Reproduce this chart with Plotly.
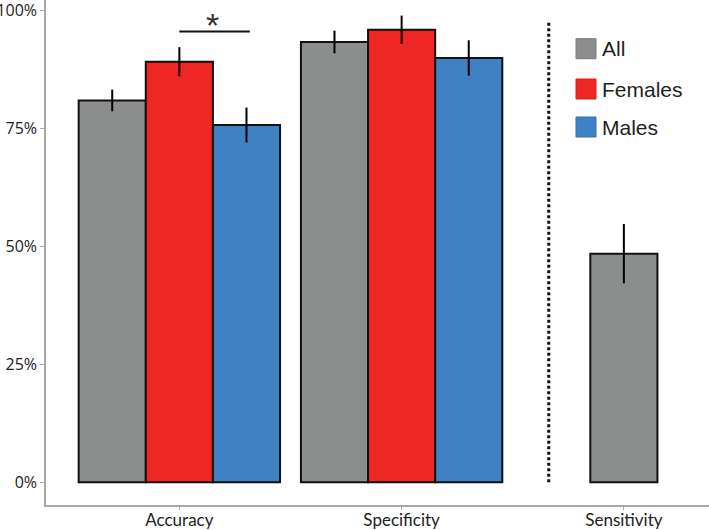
import plotly.graph_objects as go

categories = ["Accuracy", "Specificity", "Sensitivity"]
all_vals = [81.0, 93.4, 48.5]
all_err = [2.3, 2.4, 6.3]
female_vals = [89.2, 96.0]
female_err = [3.1, 3.0]
male_vals = [75.8, 90.0]
male_err = [3.7, 3.75]
y_ticks = [0, 25, 50, 75, 100]
y_tick_labels = ["0%", "25%", "50%", "75%", "100%"]
sig_label = "*"
sig_height = 95.6
divider_height = 97.7

GRAY = "#8C8E8E"
RED = "#EE2724"
BLUE = "#3F82C4"
W = 0.302

xs_all = list(range(len(all_vals)))
xs_f = list(range(len(female_vals)))
xs_m = list(range(len(male_vals)))
# All bars: left of group where there are subgroups, centred where alone
all_offsets = [-1.5 * W if i < len(female_vals) else -0.5 * W for i in xs_all]

err_style = dict(type="data", color="black", thickness=2, width=0, visible=True)
line_style = dict(color="#111111", width=2)

fig = go.Figure()
fig.add_trace(go.Bar(x=xs_all, y=all_vals, width=W, offset=all_offsets, name="All",
                     marker=dict(color=GRAY, line=line_style),
                     error_y=dict(array=all_err, **err_style)))
fig.add_trace(go.Bar(x=xs_f, y=female_vals, width=W, offset=-0.5 * W, name="Females",
                     marker=dict(color=RED, line=line_style),
                     error_y=dict(array=female_err, **err_style)))
fig.add_trace(go.Bar(x=xs_m, y=male_vals, width=W, offset=0.5 * W, name="Males",
                     marker=dict(color=BLUE, line=line_style),
                     error_y=dict(array=male_err, **err_style)))

# significance bracket between Females and Males on Accuracy
fig.add_shape(type="line", xref="x", yref="y", x0=0, x1=W + 0.015,
              y0=sig_height, y1=sig_height, line=dict(color="#111111", width=2))
fig.add_annotation(x=W / 2, y=sig_height, xref="x", yref="y", text=sig_label,
                   showarrow=False, yanchor="bottom", yshift=-14,
                   font=dict(family="Liberation Sans, Arial", size=34, color="#333333"))

# dotted divider
fig.add_shape(type="line", xref="x", yref="y", x0=1.662, x1=1.662, y0=0, y1=divider_height,
              line=dict(color="#111111", width=3, dash="3px,2.5px"))

# custom legend
legend_items = [("All", GRAY, "#7a7c7c"), ("Females", RED, "#d81f1c"), ("Males", BLUE, "#2f6fb0")]
leg_y = [48.7, 89, 127]
for (lab, col, edge), py in zip(legend_items, leg_y):
    y0 = (505 - py - 10) / 505
    y1 = (505 - py + 10) / 505
    fig.add_shape(type="rect", xref="paper", yref="paper",
                  x0=(576 - 46) / 663, x1=(596 - 46) / 663, y0=y0, y1=y1,
                  fillcolor=col, line=dict(color=edge, width=1))
    fig.add_annotation(xref="paper", yref="paper", x=(600 - 46) / 663, y=(505 - py) / 505,
                       text=lab, showarrow=False, xanchor="left", yanchor="middle",
                       font=dict(family="Liberation Sans, Arial", size=21, color="#231F20"))

axis_col = "#A8A8A8"
fig.update_layout(
    width=709, height=530,
    margin=dict(l=46, r=0, t=0, b=25),
    paper_bgcolor="white", plot_bgcolor="white",
    showlegend=False, barmode="overlay",
    xaxis=dict(range=[-0.6, 2.383], tickvals=xs_all, ticktext=categories, automargin=False,
               showgrid=False, zeroline=False, showline=True, linecolor=axis_col, linewidth=1.5,
               ticks="outside", ticklen=3, tickcolor=axis_col, tickwidth=1,
               ticklabeloverflow="allow", ticklabelstandoff=-4,
               tickfont=dict(family="Lato", size=17, color="#222222")),
    yaxis=dict(range=[-4.8, 102.3], tickvals=y_ticks, ticktext=y_tick_labels, automargin=False,
               showgrid=False, zeroline=False, showline=True, linecolor=axis_col, linewidth=1.5,
               ticks="outside", ticklen=4, tickcolor=axis_col, tickwidth=1,
               ticklabeloverflow="allow",
               tickfont=dict(family="Open Sans", size=16, color="#222222")),
)

fig.write_html("out.html", config={"displayModeBar": False},
               post_script="document.body.style.margin='0';document.body.style.padding='0';")
